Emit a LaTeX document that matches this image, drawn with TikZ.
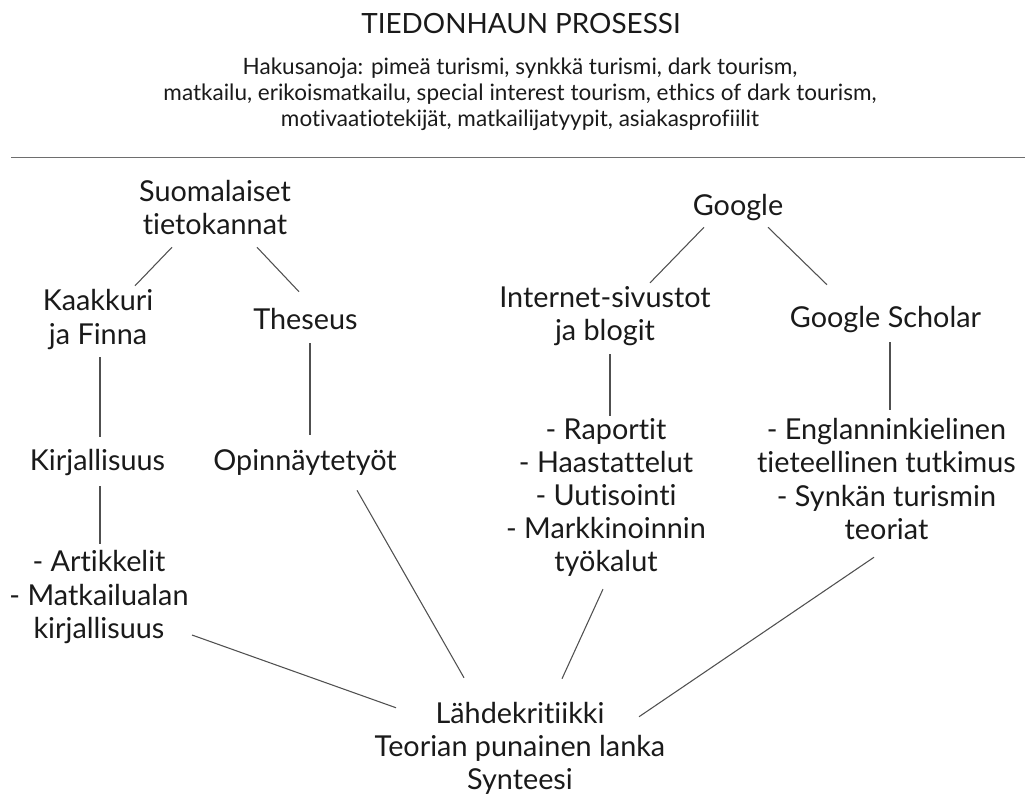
\documentclass[tikz,border=0pt]{standalone}
\usepackage{fontspec}
\setmainfont{Lato}[Ligatures=NoCommon]
\newcommand{\titlefont}{\fontsize{20.9}{24.9}\selectfont}
\newcommand{\keyfont}{\fontsize{16.9}{19.7}\selectfont}
\newcommand{\treefont}{\fontsize{21.6}{24.9}\selectfont}
\definecolor{linegray}{HTML}{505050}
\definecolor{rulegray}{HTML}{6E6E6E}
\definecolor{inkblack}{HTML}{1A1A1A}

\begin{document}
\begin{tikzpicture}[x=0.75pt,y=-0.75pt,
    link/.style={draw=linegray, line width=0.8pt}]
    \tikzstyle{every node}=[inner sep=0pt, align=center, text=inkblack, font=\treefont,
        execute at begin node=\strut, execute at end node=\strut]
    \useasboundingbox (0,0) rectangle (1025,796);

    \node[font=\titlefont] (title) at (521,26.4) {TIEDONHAUN PROSESSI};
    \node[font=\keyfont] (keys) at (520,96) {Hakusanoja: pimeä turismi, synkkä turismi, dark tourism,\\
        matkailu, erikoismatkailu, special interest tourism, ethics of dark tourism,\\
        motivaatiotekijät, matkailijatyypit, asiakasprofiilit};
    \draw[rulegray, line width=1.1pt] (11,157.5) -- (1025,157.5);

    % left tree
    \node (suom) at (215,212.4) {Suomalaiset\\tietokannat};
    \node (kaak) at (98,321.9) {Kaakkuri\\ja Finna};
    \node (thes) at (305.5,322.4) {Theseus};
    \node (kirj) at (97.5,463.4) {Kirjallisuus};
    \node (opin) at (305,463.4) {Opinnäytetyöt};
    \node (artik) at (99,599.4) {- Artikkelit\\- Matkailualan\\kirjallisuus};

    % right tree
    \node (goog) at (738,208.4) {Google};
    \node (inet) at (605,318.4) {Internet-sivustot\\ja blogit};
    \node (scho) at (885.5,320.4) {Google Scholar};
    \node (rap) at (606,499.9) {- Raportit\\- Haastattelut\\- Uutisointi\\- Markkinoinnin\\työkalut};
    \node (eng) at (886.5,483.9) {- Englanninkielinen\\tieteellinen tutkimus\\- Synkän turismin\\teoriat};

    \node (lahde) at (520,750.9) {Lähdekritiikki\\Teorian punainen lanka\\Synteesi};

    \draw[link] ([shift={(-43,2.4)}]suom.south) -- ([shift={(37,-3.7)}]kaak.north);
    \draw[link] ([shift={(42,2.4)}]suom.south) -- ([shift={(-6.5,-13.8)}]thes.north);
    \draw[link] ([shift={(2,2.9)}]kaak.south) -- ([shift={(2.5,-9.8)}]kirj.north);
    \draw[link] ([shift={(4.5,4)}]thes.south) -- ([shift={(5,-11.8)}]opin.north);
    \draw[link] ([shift={(2.5,6)}]kirj.south) -- ([shift={(1,-6.6)}]artik.north);

    \draw[link] ([shift={(-34,2)}]goog.south) -- ([shift={(45,-3.2)}]inet.north);
    \draw[link] ([shift={(30,2)}]goog.south) -- ([shift={(-58.5,-18.8)}]scho.north);
    \draw[link] ([shift={(5,3.4)}]inet.south) -- ([shift={(4,-1.9)}]rap.north);
    \draw[link] ([shift={(4.5,5)}]scho.south) -- ([shift={(3.5,-8.5)}]eng.north);

    \draw[link] ([shift={(93,35.6)}]artik.center) -- ([shift={(-124,5.9)}]lahde.north);
    \draw[link] ([shift={(52,10)}]opin.south) -- ([shift={(-56,-24.1)}]lahde.north);
    \draw[link] ([shift={(-3,7.1)}]rap.south) -- ([shift={(42,-23.1)}]lahde.north);
    \draw[link] ([shift={(-12.5,7.7)}]eng.south) -- ([shift={(119,14.9)}]lahde.north);
\end{tikzpicture}
\end{document}
